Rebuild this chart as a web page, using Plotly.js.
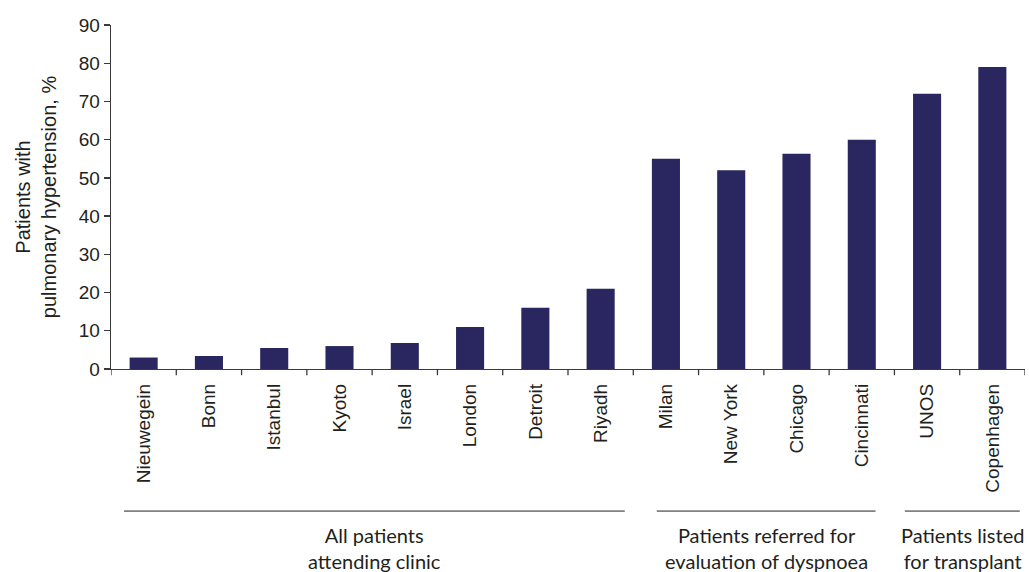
<!DOCTYPE html>
<html>
<head>
<meta charset="utf-8">
<script src="https://cdn.plot.ly/plotly-3.0.1.min.js"></script>
<style>html,body{margin:0;padding:0;background:#fff;}#chart{width:1029px;height:572px;}</style>
</head>
<body>
<div id="chart"></div>
<script>
const categories = ["Nieuwegein","Bonn","Istanbul","Kyoto","Israel","London","Detroit","Riyadh","Milan","New York","Chicago","Cincinnati","UNOS","Copenhagen"];
const values = [3, 3.4, 5.5, 6, 6.8, 11, 16, 21, 55, 52, 56.3, 60, 72, 79];
const groupLabels = ["All patients<br>attending clinic","Patients referred for<br>evaluation of dyspnoea","Patients listed<br>for transplant"];
const groupStart = [0, 8, 12];
const groupEnd = [7, 11, 13];
const yTicks = [0,10,20,30,40,50,60,70,80,90];

const AX_FONT = "'Liberation Sans', Arial, sans-serif";
const GRP_FONT = "Lato, 'Noto Sans', sans-serif";
const TXT = "#231f20";

const padL = [0.3, 0.14, 0.34];
const padR = [0.37, 0.21, 0.42];
const shapes = [];
const annotations = [];
for (let g = 0; g < groupLabels.length; g++) {
  const x0 = groupStart[g] - padL[g];
  const x1 = groupEnd[g] + padR[g];
  shapes.push({type:"line", xref:"x", yref:"paper", x0:x0, x1:x1, y0:-0.413, y1:-0.413, line:{color:"#231f20", width:1}});
  annotations.push({xref:"x", yref:"paper", x:(x0+x1)/2, y:-0.442, yanchor:"top", xanchor:"center", text:groupLabels[g], showarrow:false, align:"center", font:{family:GRP_FONT, size:20, color:TXT}});
}

const trace = {
  type:"bar",
  x: categories.map((c,i)=>i),
  y: values,
  marker:{color:"#2a2660"},
  width:0.43,
  hoverinfo:"none"
};

const layout = {
  width:1029, height:572,
  margin:{l:111, r:4, t:25, b:203},
  paper_bgcolor:"#fff", plot_bgcolor:"#fff",
  showlegend:false,
  font:{family:AX_FONT, color:TXT},
  xaxis:{
    type:"linear",
    range:[-0.5, categories.length-0.5],
    tickmode:"array",
    tickvals: categories.map((c,i)=>i),
    ticktext: categories,
    tickangle:-90,
    tickfont:{family:AX_FONT, size:19, color:TXT},
    ticklabelstandoff:6,
    showgrid:false, zeroline:false,
    showline:true, linecolor:"#3a3a3a", linewidth:1.3,
    ticks:"", fixedrange:true
  },
  yaxis:{
    range:[0,90],
    tickmode:"array", tickvals:yTicks,
    tickfont:{family:AX_FONT, size:19, color:TXT},
    showgrid:false, zeroline:false,
    showline:true, linecolor:"#3a3a3a", linewidth:1.3,
    ticks:"outside", ticklen:6, tickcolor:"#3a3a3a", tickwidth:1.3,
    title:{text:"Patients with<br>pulmonary hypertension, %", font:{family:AX_FONT, size:20, color:TXT}, standoff:16}
  },
  shapes: shapes,
  annotations: annotations
};

for (let i = 0; i <= categories.length; i++) {
  layout.shapes.push({type:"line", xref:"x", yref:"paper", x0:i-0.5, x1:i-0.5, y0:0, y1:-0.018, line:{color:"#3a3a3a", width:1.3}});
}

Plotly.newPlot("chart", [trace], layout, {displayModeBar:false, staticPlot:true});
</script>
</body>
</html>
